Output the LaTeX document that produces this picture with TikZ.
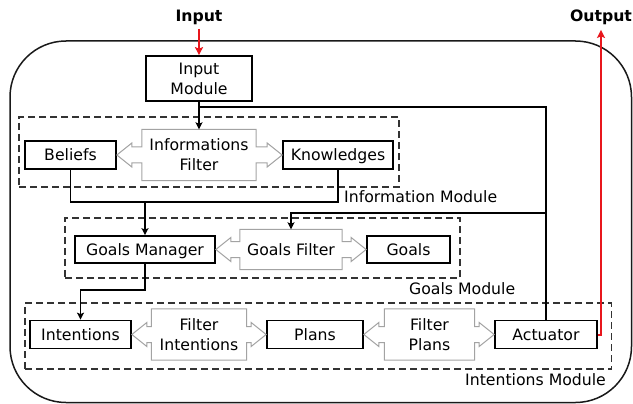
\documentclass[tikz,border=0pt]{standalone}
\usepackage{fontspec}
\setmainfont{DejaVu Sans}
\usetikzlibrary{arrows.meta,calc}
\definecolor{sigred}{HTML}{E8161C}
\definecolor{filtgray}{HTML}{A3A3A3}
\definecolor{dashgray}{HTML}{333333}

% Double-headed filter outline: body node #1 pointing at left box #2 and right box #3
\newcommand\filterarrows[3]{%
  \draw[filtline]
    (#1.north west) -- (#1.north east)
    -- ([yshift=8pt]#1.east) -- ([xshift=-15pt,yshift=8pt]#3.west)
    -- ([xshift=-15pt,yshift=12pt]#3.west) -- (#3.west)
    -- ([xshift=-15pt,yshift=-12pt]#3.west) -- ([xshift=-15pt,yshift=-8pt]#3.west)
    -- ([yshift=-8pt]#1.east) -- (#1.south east) -- (#1.south west)
    -- ([yshift=-8pt]#1.west) -- ([xshift=15pt,yshift=-8pt]#2.east)
    -- ([xshift=15pt,yshift=-12pt]#2.east) -- (#2.east)
    -- ([xshift=15pt,yshift=12pt]#2.east) -- ([xshift=15pt,yshift=8pt]#2.east)
    -- ([yshift=8pt]#1.west) -- cycle;}

\begin{document}
\begin{tikzpicture}[x=1pt,y=-1pt,
  every node/.style={font=\fontsize{15.7}{20}\selectfont, inner sep=0pt},
  sline/.style={text height=11.4pt, text depth=0pt},
  unit/.style={draw=black, line width=1.7pt, minimum height=28pt},
  filt/.style={minimum height=51pt, align=center},
  modbox/.style={draw=dashgray, line width=1.5pt, dash pattern=on 7pt off 4pt},
  modlabel/.style={sline, anchor=west},
  frame/.style={draw=black!90, line width=1.5pt, rounded corners=56pt},
  link/.style={draw=black, line width=1.5pt},
  flow/.style={link, -{Stealth[length=7pt,width=7pt,inset=1.5pt]}},
  signal/.style={draw=sigred, line width=2pt, -{Stealth[length=8pt,width=8pt,inset=1.5pt]}},
  filtline/.style={draw=filtgray, line width=1pt, line join=miter},
  io/.style={sline, font=\fontsize{15.7}{20}\selectfont\bfseries},
]
\useasboundingbox (0,0) rectangle (633,404);

% agent frame
\node[frame, minimum width=621.5pt, minimum height=361.5pt] (agent) at (320.75,221.75) {};

% module groupings
\node[modbox, minimum width=380pt, minimum height=70pt] (infomod) at (209,152) {};
\node[modbox, minimum width=395pt, minimum height=60pt] (goalmod) at (262.5,248) {};
\node[modbox, minimum width=586.5pt, minimum height=66pt] (intmod) at (318.25,336) {};
\node[modlabel] (infolbl) at (344,197) {Information Module};
\node[modlabel] (goallbl) at (409,288.3) {Goals Module};
\node[modlabel] (intlbl) at (465,379.5) {Intentions Module};

% external signals
\node[io] (inlbl) at (199,16) {Input};
\node[io] (outlbl) at (601,16) {Output};

% units
\node[unit, minimum width=106pt, minimum height=45pt, align=center] (inmod) at (199,78.5) {Input\\Module};
\node[unit, sline, minimum width=91pt] (beliefs) at (70.5,155) {Beliefs};
\node[filt, minimum width=114pt] (infofilt) at (199,155) {Informations\\Filter};
\node[unit, sline, minimum width=110pt] (knowl) at (338,155) {Knowledges};

\node[unit, sline, minimum width=140pt, minimum height=27pt] (gm) at (145,249.5) {Goals Manager};
\node[filt, sline, minimum width=102pt, minimum height=40pt] (gf) at (291,249.5) {Goals Filter};
\node[unit, sline, minimum width=83pt, minimum height=27pt] (goals) at (408.5,249.5) {Goals};

\node[unit, sline, minimum width=101pt] (intent) at (80.5,334.5) {Intentions};
\node[filt, minimum width=95pt] (fi) at (199,334.5) {Filter\\Intentions};
\node[unit, sline, minimum width=96pt] (plans) at (315,334.5) {Plans};
\node[filt, minimum width=90pt] (fp) at (429.5,334.5) {Filter\\Plans};
\node[unit, sline, minimum width=102pt] (act) at (546,334.5) {Actuator};

% filter outlines
\filterarrows{infofilt}{beliefs}{knowl}
\filterarrows{gf}{gm}{goals}
\filterarrows{fi}{intent}{plans}
\filterarrows{fp}{plans}{act}

% junctions
\coordinate (j1) at (199,107);
\coordinate (j2) at (546,213);
\coordinate (j3) at (145,202);
\coordinate (j4) at (145,290);

% connectors
\draw[flow] (inmod.south) -- (infofilt.north);
\draw[link] (j1) -| (act.north);
\draw[flow] (j2) -| (gf.north);
\draw[link] (beliefs.south) |- (j3) -| (knowl.south);
\draw[flow] (j3) -- (gm.north);
\draw[flow] (gm.south) -- (j4) -| (intent.north);

% input / output signals
\draw[signal] ([yshift=-7pt]inlbl.south) -- (inmod.north);
\draw[signal] (act.east) -| ([yshift=-8pt]outlbl.south);
\end{tikzpicture}
\end{document}
